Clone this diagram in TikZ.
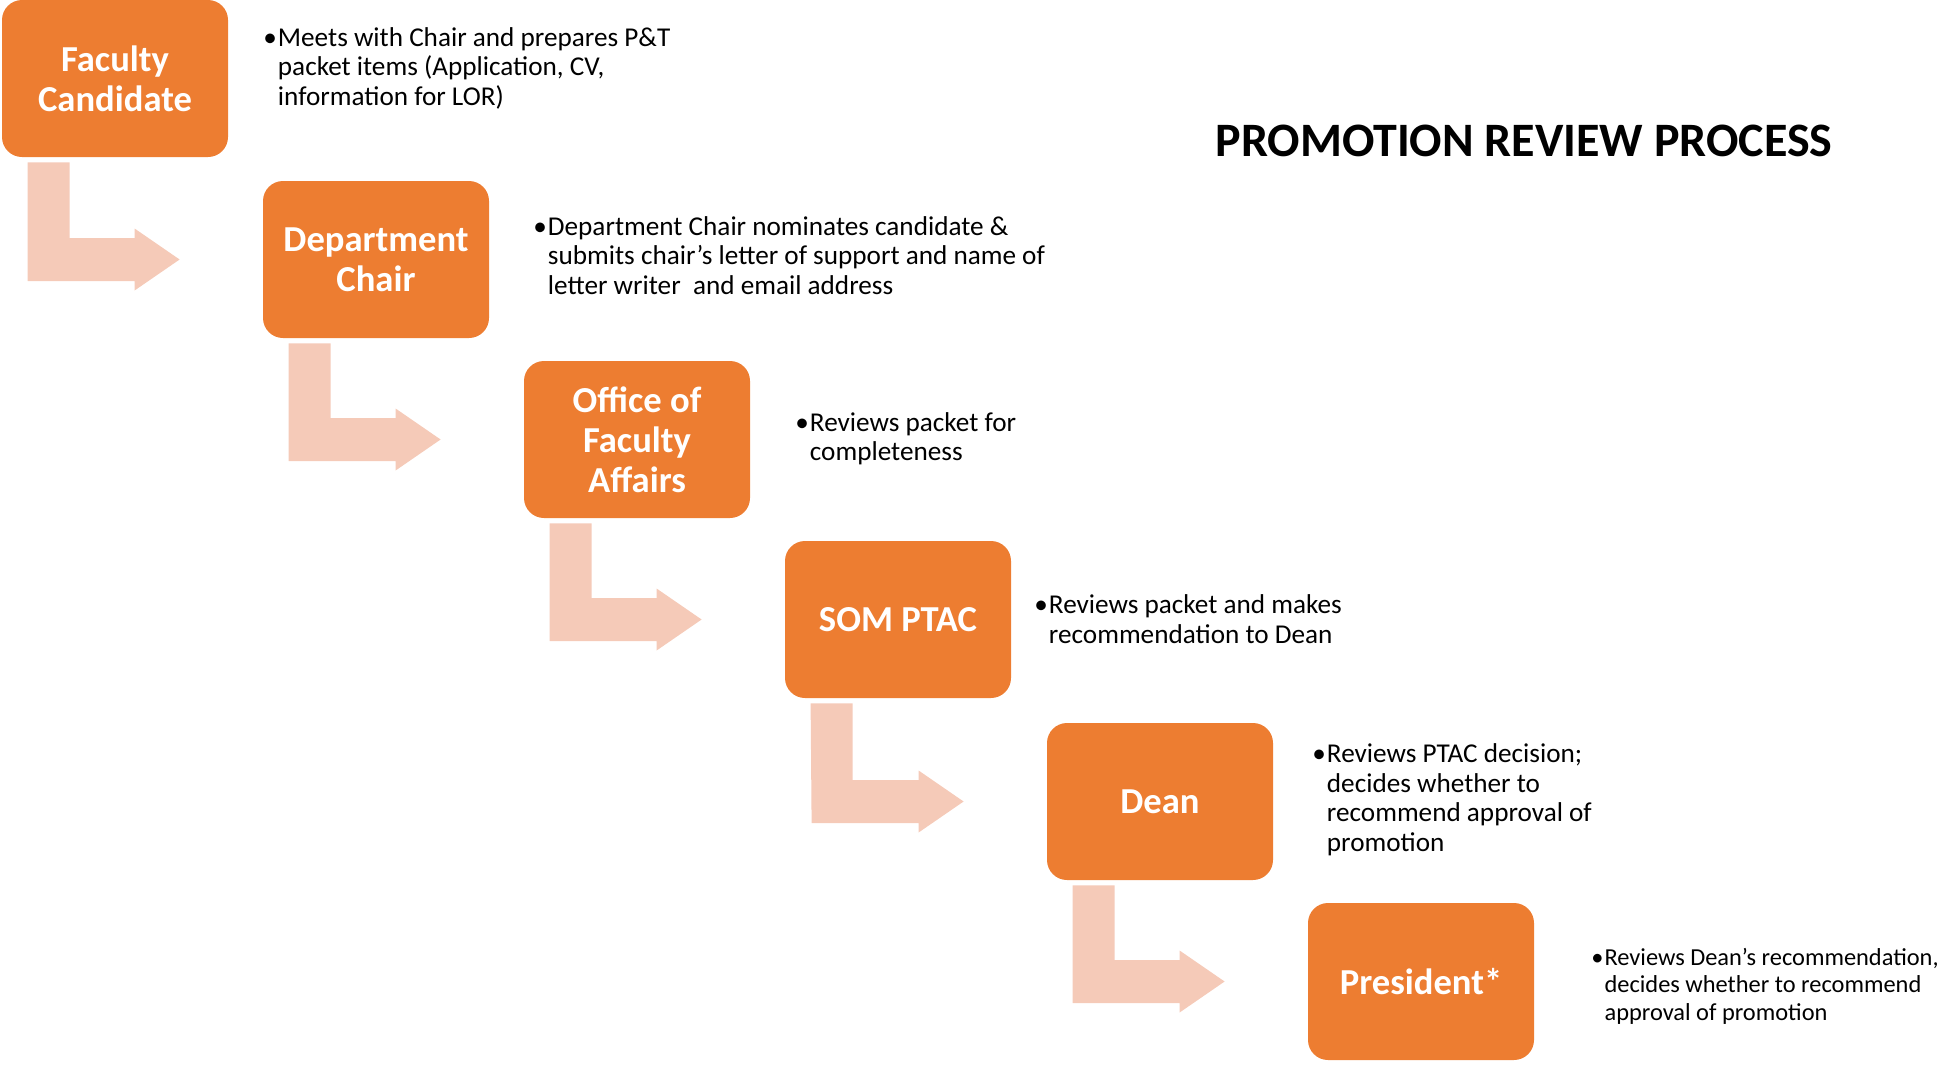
\documentclass[tikz,border=0pt]{standalone}
\usepackage{fontspec}
\setmainfont{Carlito}
\usepackage{xcolor}
\usetikzlibrary{calc,positioning}

\definecolor{boxorange}{HTML}{ED7D31}
\definecolor{bendpink}{HTML}{F5CAB8}

% bullet followed by a block of left aligned lines
\newcommand{\noteitem}[1]{\textbullet\hspace{0.5pt}\begin{tabular}[t]{@{}l@{}}#1\end{tabular}}

\tikzset{
  stage/.style={rectangle, rounded corners=10pt, fill=boxorange, text=white,
    font=\bfseries\fontsize{18.3}{20}\selectfont, align=center, inner sep=0pt,
    minimum width=113pt, minimum height=78.5pt},
  note/.style={anchor=west, inner sep=0pt, text=black,
    font=\fontsize{13.6}{14.8}\selectfont},
  bendarrow/.style={fill=bendpink, draw=none}
}

\begin{document}
\begin{tikzpicture}[x=0.5pt, y=-0.5pt]
   \useasboundingbox (0,0) rectangle (1947,1066);

   % the six stages
   \node[stage] (cand)  at (115,78.5)   {Faculty\\Candidate};
   \node[stage] (chair) at (376,259.5)  {Department\\Chair};
   \node[stage] (ofa)   at (637,439.5)  {Office of\\Faculty\\Affairs};
   \node[stage] (ptac)  at (898,619.5)  {SOM PTAC};
   \node[stage] (dean)  at (1160,801.5) {Dean};
   \node[stage] (pres)  at (1421,981.5) {President*};

   % what each stage does
   \node[note] (candtxt)  at (263,70)    {\noteitem{Meets with Chair and prepares P\&T\\packet items (Application, CV,\\information for LOR)}};
   \node[note] (chairtxt) at (533,259)   {\noteitem{Department Chair nominates candidate \&\\submits chair's letter of support and name of\\letter writer\ \ and email address}};
   \node[note] (ofatxt)   at (795,440)   {\noteitem{Reviews packet for\\completeness}};
   \node[note] (ptactxt)  at (1034,622.5) {\noteitem{Reviews packet and makes\\recommendation to Dean}};
   \node[note] (deantxt)  at (1312,801) {\noteitem{Reviews PTAC decision;\\decides whether to\\recommend approval of\\promotion}};
   \node[note, font=\fontsize{12.2}{13.6}\selectfont] (prestxt) at (1591,987.5)
        {\noteitem{Reviews Dean’s recommendation,\\decides whether to recommend\\approval of promotion}};

   \node[font=\bfseries\fontsize{24}{28}\selectfont] (title) at (1524,141) {PROMOTION REVIEW PROCESS};

   % bent arrows from one stage down to the next
   \foreach \a/\b in {cand/chair, chair/ofa, ofa/ptac, ptac/dean, dean/pres}{
     \fill[bendarrow] ($(\a.south west)+(26,5)$) -- ++(42,0)
        |- ($(\b.west)+(-128,-21.5)$) -- ++(0,-9.5)
        -- ($(\b.west)+(-83,0)$)
        -- ($(\b.west)+(-128,31)$) -- ++(0,-9.5)
        -- ($(\b.west)+(-235,21.5)$) -- cycle;
   }
\end{tikzpicture}
\end{document}
